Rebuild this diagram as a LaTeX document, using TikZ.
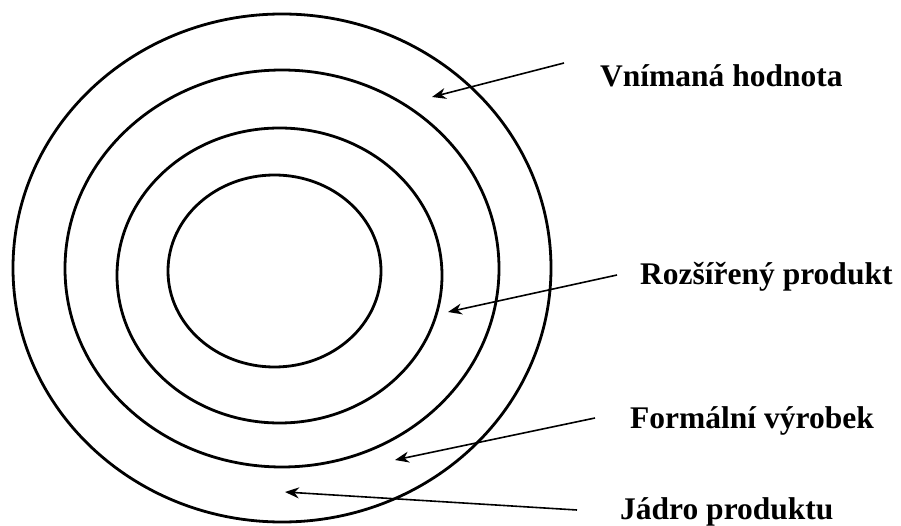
\documentclass[tikz,border=0pt]{standalone}
\usepackage{fontspec}
\setmainfont{Liberation Serif}
\usetikzlibrary{arrows.meta}
\begin{document}
\begin{tikzpicture}[x=1pt,y=-1pt,
  ring/.style={line width=2.8pt},
  lbl/.style={anchor=base west, inner sep=0pt, font=\fontsize{31.5}{36}\selectfont\bfseries},
  pointer/.style={line width=1.6pt, -{Stealth[length=14pt,width=11pt]}}]
\useasboundingbox[fill=white] (0,0) rectangle (901,526);
% rings
\draw[ring] (282,268) ellipse [x radius=269pt, y radius=254pt];
\draw[ring] (282,268.5) ellipse [x radius=217pt, y radius=198.5pt];
\draw[ring] (279.5,275.5) ellipse [x radius=162.5pt, y radius=147.5pt];
\draw[ring] (274.5,271) ellipse [x radius=106.5pt, y radius=96pt];
% labels
\node[lbl] (vh) at (600,87) {Vnímaná hodnota};
\node[lbl] (rp) at (640,285) {Rozšířený produkt};
\node[lbl] (fv) at (630,428) {Formální výrobek};
\node[lbl] (jp) at (620,519) {Jádro produktu};
% arrow ends
\coordinate (vhs) at (564,63);
\coordinate (vht) at (432,97);
\coordinate (rps) at (617,275);
\coordinate (rpt) at (448,312);
\coordinate (fvs) at (595,418);
\coordinate (fvt) at (395,460);
\coordinate (jps) at (577,510);
\coordinate (jpt) at (285,492);
\draw[pointer] (vhs) -- (vht);
\draw[pointer] (rps) -- (rpt);
\draw[pointer] (fvs) -- (fvt);
\draw[pointer] (jps) -- (jpt);
\end{tikzpicture}
\end{document}
